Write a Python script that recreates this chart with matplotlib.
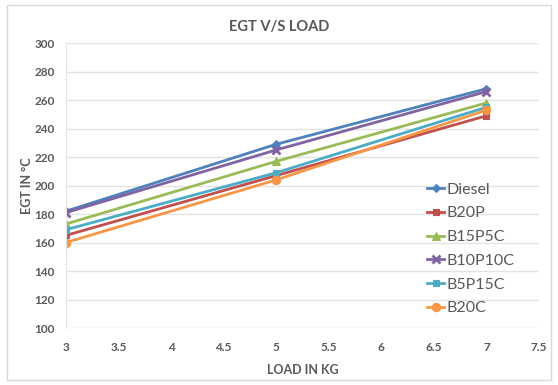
import matplotlib
matplotlib.use("Agg")
import matplotlib.pyplot as plt
from matplotlib.patches import Rectangle

# load (kg) and exhaust gas temperature readings
load = [3, 5, 7]
diesel = [182, 229, 268]
b20p = [165, 207, 249]
b15p5c = [173, 217, 258]
b10p10c = [181, 225, 266]
b5p15c = [169, 209, 255]
b20c = [160, 204, 253]

series_names = ["Diesel", "B20P", "B15P5C", "B10P10C", "B5P15C", "B20C"]
series_vals = [diesel, b20p, b15p5c, b10p10c, b5p15c, b20c]
colors = ["#4F81BD", "#C0504D", "#9BBB59", "#8064A2", "#4BACC6", "#F79646"]
markers = ["D", "s", "^", "x", "s", "o"]
msizes = [4.5, 5, 6, 6, 5, 6]

xticks = [3, 3.5, 4, 4.5, 5, 5.5, 6, 6.5, 7, 7.5]
yticks = list(range(100, 301, 20))

plt.rcParams['font.family'] = ['Lato', 'DejaVu Sans']
txt = "#595959"


def main():
    fig = plt.figure(figsize=(5.58, 3.85), dpi=100)
    fig.patches.append(Rectangle((0.012, 0.012), 0.976, 0.976, transform=fig.transFigure,
                                 fill=False, edgecolor="#D9D9D9", linewidth=1))
    # plot area in figure fractions (px 66..539 wide, 43..328 tall)
    ax = fig.add_axes([0.118, 0.148, 0.848, 0.740])

    for name, vals, c, m, ms in zip(series_names, series_vals, colors, markers, msizes):
        ax.plot(load, vals, color=c, linewidth=2, marker=m, markersize=ms,
                markeredgewidth=2 if m == "x" else 0.8, label=name)

    ax.set_xlim(3, 7.5)
    ax.set_ylim(100, 300)
    ax.set_xticks(xticks)
    ax.set_xticklabels([f"{t:g}" for t in xticks])
    ax.set_yticks(yticks)
    ax.grid(axis='y', color="#E3E3E3", linewidth=1)
    ax.set_axisbelow(True)
    for s in ["top", "right", "bottom"]:
        ax.spines[s].set_visible(False)
    ax.spines["left"].set_color("#E3E3E3")
    ax.tick_params(axis='x', length=0, labelsize=8.5, labelcolor=txt, pad=10)
    ax.tick_params(axis='y', length=0, labelsize=8.5, labelcolor=txt, pad=8)
    for lab in ax.get_xticklabels() + ax.get_yticklabels():
        lab.set_fontweight("bold")

    # title sits centred on the whole chart, not the plot area
    fig.suptitle("EGT V/S LOAD", x=0.5, y=0.948, fontsize=10.5, fontweight="bold", color=txt)
    ax.set_xlabel("LOAD IN KG", fontsize=9, fontweight="bold", color=txt, labelpad=8)
    ax.set_ylabel("EGT IN °C", fontsize=9, fontweight="bold", color=txt)
    ax.yaxis.set_label_coords(-0.07, 0.5)

    leg = fig.legend(loc="upper left", bbox_to_anchor=(0.765, 0.526), frameon=False,
                     borderpad=0, borderaxespad=0,
                     fontsize=11.5, handlelength=1.1, handletextpad=0.15, labelspacing=0.6)
    for t in leg.get_texts():
        t.set_color(txt)

    fig.savefig("out.png", dpi=100)


if __name__ == "__main__":
    main()
